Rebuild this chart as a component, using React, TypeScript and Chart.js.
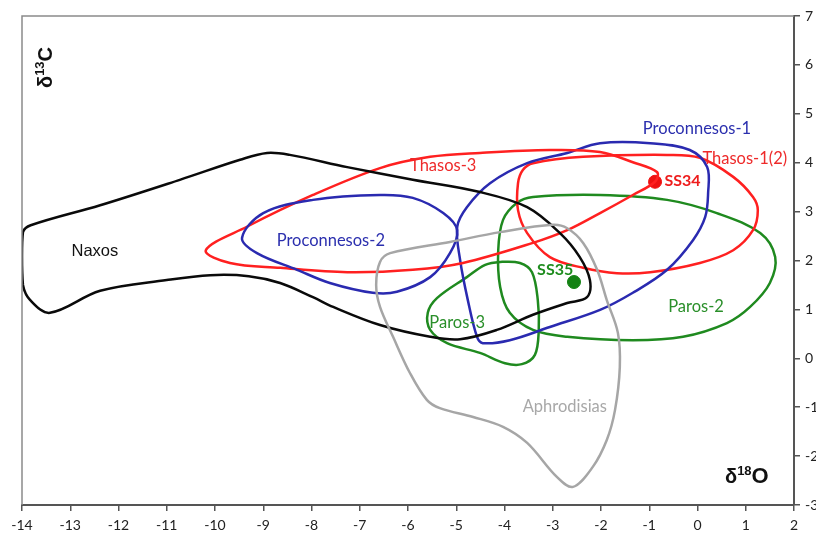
import React, { useEffect, useRef } from "react";
import { Chart, registerables } from "chart.js";
Chart.register(...registerables);

// Axis ranges
const xMin = -14, xMax = 2;
const yMin = -3, yMax = 7;

// Field outlines (δ18O, δ13C)
const naxos = [
  [-13.82, 2.72], [-12.38, 3.13], [-10.73, 3.65], [-9.48, 4.06], [-8.92, 4.2], [-8.45, 4.16],
  [-7.26, 3.91], [-5.9, 3.65], [-4.51, 3.4], [-3.53, 3.09], [-2.85, 2.56], [-2.44, 2.07],
  [-2.23, 1.6], [-2.29, 1.25], [-2.7, 1.13], [-3.41, 0.89], [-4.16, 0.58], [-4.92, 0.39],
  [-5.54, 0.44], [-6.58, 0.68], [-7.55, 1.05], [-7.97, 1.25], [-8.65, 1.54], [-9.3, 1.68],
  [-10.1, 1.7], [-11.0, 1.6], [-12.38, 1.38], [-13.42, 0.93], [-13.83, 1.19], [-13.98, 1.5],
  [-14.0, 2.1], [-13.98, 2.58],
];
const thasos3 = [
  [-10.19, 2.21], [-9.34, 2.69], [-7.97, 3.34], [-6.58, 3.89], [-5.54, 4.12], [-4.51, 4.2],
  [-3.06, 4.26], [-2.02, 4.22], [-1.34, 4.01], [-0.84, 3.81], [-0.88, 3.61],
  [-1.34, 3.34], [-2.02, 2.97], [-2.7, 2.62], [-3.41, 2.36], [-4.86, 1.95], [-5.9, 1.81],
  [-7.26, 1.76], [-8.65, 1.85], [-9.69, 1.95],
];
const thasos1 = [
  [-3.41, 3.99], [-2.37, 4.12], [-0.63, 4.16], [0.05, 4.1], [0.74, 3.71], [1.15, 3.3],
  [1.25, 3.03], [1.15, 2.62], [0.74, 2.21], [0.05, 1.95], [-0.98, 1.76], [-1.67, 1.74],
  [-2.37, 1.85], [-3.06, 2.07], [-3.53, 2.56], [-3.72, 3.03], [-3.72, 3.58], [-3.62, 3.85],
];
const proconnesos1 = [
  [-2.7, 4.2], [-2.02, 4.4], [-0.98, 4.4], [-0.16, 4.26], [0.2, 3.91], [0.22, 3.38],
  [0.16, 2.89], [-0.09, 2.42], [-0.63, 1.81], [-1.34, 1.34], [-2.02, 0.99], [-3.06, 0.64],
  [-3.89, 0.37], [-4.45, 0.31], [-4.57, 0.44], [-4.76, 1.19], [-4.92, 2.01], [-4.98, 2.69],
  [-4.78, 3.09], [-4.3, 3.58], [-3.53, 3.99],
];
const proconnesos2 = [
  [-9.44, 2.46], [-9.0, 2.97], [-7.97, 3.24], [-6.58, 3.34], [-5.9, 3.28], [-5.27, 2.97],
  [-4.98, 2.62], [-5.13, 2.15], [-5.54, 1.66], [-6.23, 1.36], [-6.73, 1.34], [-7.62, 1.54],
  [-8.3, 1.81], [-9.13, 2.15],
];
const paros2 = [
  [-3.41, 3.3], [-2.02, 3.34], [-0.63, 3.24], [0.4, 2.97], [1.3, 2.56], [1.61, 2.07],
  [1.5, 1.54], [1.09, 1.05], [0.61, 0.72], [-0.3, 0.44], [-1.34, 0.37], [-2.7, 0.44],
  [-3.41, 0.58], [-3.89, 0.93], [-4.09, 1.46], [-4.13, 2.21], [-4.03, 2.83], [-3.74, 3.18],
];
const paros3 = [
  [-4.09, 1.97], [-3.68, 1.95], [-3.43, 1.76], [-3.31, 1.19], [-3.29, 0.58], [-3.37, 0.07],
  [-3.64, -0.12], [-3.99, -0.1], [-4.51, 0.11], [-5.19, 0.31], [-5.54, 0.58], [-5.59, 0.93],
  [-5.4, 1.23], [-4.78, 1.66], [-4.4, 1.91],
];
const aphrodisias = [
  [-6.58, 1.97], [-6.37, 2.15], [-5.13, 2.38], [-4.09, 2.58], [-3.0, 2.73], [-2.7, 2.66],
  [-2.37, 2.36], [-2.08, 1.81], [-1.88, 1.19], [-1.65, 0.52], [-1.61, -0.18], [-1.71, -1.06],
  [-1.88, -1.67], [-2.17, -2.22], [-2.58, -2.63], [-2.91, -2.43], [-3.53, -1.73], [-4.03, -1.4],
  [-4.65, -1.2], [-5.34, -1.02], [-5.61, -0.85], [-5.96, -0.3], [-6.31, 0.44], [-6.58, 1.05],
  [-6.66, 1.5],
];

// Samples
const ss34 = [-0.88, 3.61];
const ss35 = [-2.56, 1.56];

// Text labels (anchor in data units)
const fieldLabels = [
  { text: "Naxos", x: -12.49, y: 2.19, color: "#111111", font: "16.5px 'Liberation Sans', Arial, sans-serif" },
  { text: "Proconnesos-2", x: -7.6, y: 2.4, color: "#2b2fae", font: "16.5px Lato, sans-serif" },
  { text: "Thasos-3", x: -5.27, y: 3.93, color: "#ee2a2a", font: "16.5px Lato, sans-serif" },
  { text: "Proconnesos-1", x: -0.01, y: 4.69, color: "#2b2fae", font: "16.5px Lato, sans-serif" },
  { text: "Thasos-1(2)", x: 0.98, y: 4.08, color: "#ee2a2a", font: "16.5px Lato, sans-serif" },
  { text: "SS34", x: -0.31, y: 3.63, color: "#ee1c1c", font: "bold 16px Lato, sans-serif" },
  { text: "SS35", x: -2.95, y: 1.81, color: "#1e8c1e", font: "bold 16px Lato, sans-serif" },
  { text: "Paros-2", x: -0.03, y: 1.05, color: "#2a8f2a", font: "16.5px Lato, sans-serif" },
  { text: "Paros-3", x: -4.98, y: 0.72, color: "#2a8f2a", font: "16.5px Lato, sans-serif" },
  { text: "Aphrodisias", x: -2.75, y: -0.98, color: "#a8a8a8", font: "16.5px Lato, sans-serif" },
];

function closedLoop(pts: number[][]) {
  const n = pts.length;
  const arr = [pts[n - 1], ...pts, pts[0], pts[1]];
  return arr.map(([x, y]) => ({ x, y }));
}

function loopDataset(pts: number[][], color: string) {
  const data = closedLoop(pts);
  const last = data.length - 1;
  return {
    data,
    showLine: true,
    borderColor: color,
    borderWidth: 2.5,
    pointRadius: 0,
    pointHoverRadius: 0,
    tension: 0.35,
    fill: false,
    segment: {
      borderColor: (ctx: any) =>
        ctx.p0DataIndex === 0 || ctx.p1DataIndex === last ? "rgba(0,0,0,0)" : color,
    },
  };
}

const overlayPlugin = {
  id: "overlay",
  afterDatasetsDraw(chart: any) {
    const { ctx, chartArea, scales } = chart;
    const xs = scales.x, ys = scales.y;
    ctx.save();
    // frame (top and left)
    ctx.strokeStyle = "#8a8a8a";
    ctx.lineWidth = 1.5;
    ctx.beginPath();
    ctx.moveTo(chartArea.left, chartArea.bottom);
    ctx.lineTo(chartArea.left, chartArea.top);
    ctx.lineTo(chartArea.right, chartArea.top);
    ctx.stroke();

    ctx.textAlign = "center";
    ctx.textBaseline = "middle";
    for (const l of fieldLabels) {
      ctx.font = l.font;
      ctx.fillStyle = l.color;
      ctx.fillText(l.text, xs.getPixelForValue(l.x), ys.getPixelForValue(l.y));
    }

    // δ13C axis title (rotated)
    ctx.save();
    ctx.translate(chartArea.left + 30, chartArea.top + 72);
    ctx.rotate(-Math.PI / 2);
    ctx.fillStyle = "#111";
    ctx.textAlign = "left";
    ctx.textBaseline = "alphabetic";
    ctx.font = "bold 20px 'Liberation Sans', Arial, sans-serif";
    ctx.fillText("δ", 0, 0);
    let w = ctx.measureText("δ").width;
    ctx.font = "bold 13px 'Liberation Sans', Arial, sans-serif";
    ctx.fillText("13", w, -8);
    w += ctx.measureText("13").width;
    ctx.font = "bold 20px 'Liberation Sans', Arial, sans-serif";
    ctx.fillText("C", w, 0);
    ctx.restore();

    // δ18O axis title
    ctx.save();
    ctx.fillStyle = "#111";
    ctx.textAlign = "left";
    ctx.textBaseline = "alphabetic";
    let px = chartArea.right - 69;
    const py = chartArea.bottom - 22;
    ctx.font = "bold 20px 'Liberation Sans', Arial, sans-serif";
    ctx.fillText("δ", px, py);
    px += ctx.measureText("δ").width;
    ctx.font = "bold 13px 'Liberation Sans', Arial, sans-serif";
    ctx.fillText("18", px, py - 8);
    px += ctx.measureText("18").width;
    ctx.font = "bold 22px 'Liberation Sans', Arial, sans-serif";
    ctx.fillText("O", px, py);
    ctx.restore();

    ctx.restore();
  },
};

export default function App() {
  const ref = useRef<HTMLCanvasElement | null>(null);
  useEffect(() => {
    if (!ref.current) return;
    const chart = new Chart(ref.current, {
      type: "scatter",
      data: {
        datasets: [
          loopDataset(aphrodisias, "#a6a6a6"),
          loopDataset(naxos, "#0a0a0a"),
          loopDataset(proconnesos2, "#2a2ab0"),
          loopDataset(thasos3, "#ff2020"),
          loopDataset(proconnesos1, "#2a2ab0"),
          loopDataset(thasos1, "#ff2020"),
          loopDataset(paros2, "#1f8a1f"),
          loopDataset(paros3, "#1f8a1f"),
          {
            data: [{ x: ss34[0], y: ss34[1] }],
            pointRadius: 6.5,
            backgroundColor: "#ee1111",
            borderColor: "#ee1111",
            showLine: false,
          },
          {
            data: [{ x: ss35[0], y: ss35[1] }],
            pointRadius: 6.5,
            backgroundColor: "#148214",
            borderColor: "#148214",
            showLine: false,
          },
        ] as any,
      },
      options: {
        responsive: false,
        animation: false,
        devicePixelRatio: 1,
        layout: { padding: { left: 22, top: 16, right: 0, bottom: 0 } },
        plugins: { legend: { display: false }, tooltip: { enabled: false } },
        events: [],
        scales: {
          x: {
            type: "linear",
            position: "bottom",
            min: xMin,
            max: xMax,
            afterFit: (s: any) => { s.height = 30; },
            ticks: {
              stepSize: 1,
              color: "#222",
              padding: 6,
              font: { family: "Lato, sans-serif", size: 14 },
              maxRotation: 0,
              autoSkip: false,
            },
            grid: { drawOnChartArea: false, drawTicks: true, tickLength: 6, color: "#555", lineWidth: 1.5 },
            border: { color: "#555", width: 2 },
          },
          y: {
            type: "linear",
            position: "right",
            min: yMin,
            max: yMax,
            afterFit: (s: any) => { s.width = 56; },
            ticks: {
              stepSize: 1,
              color: "#222",
              padding: 5,
              font: { family: "Lato, sans-serif", size: 14 },
              autoSkip: false,
            },
            grid: { drawOnChartArea: false, drawTicks: true, tickLength: 6, color: "#555", lineWidth: 1.5 },
            border: { color: "#555", width: 2 },
          },
        },
      },
      plugins: [overlayPlugin],
    });
    return () => chart.destroy();
  }, []);
  return (
    <div style={{ position: "absolute", left: 0, top: 0, width: 816, height: 535, overflow: "hidden", background: "#fff" }}>
      <canvas ref={ref} width={850} height={535} style={{ display: "block", width: 850, height: 535 }} />
    </div>
  );
}
